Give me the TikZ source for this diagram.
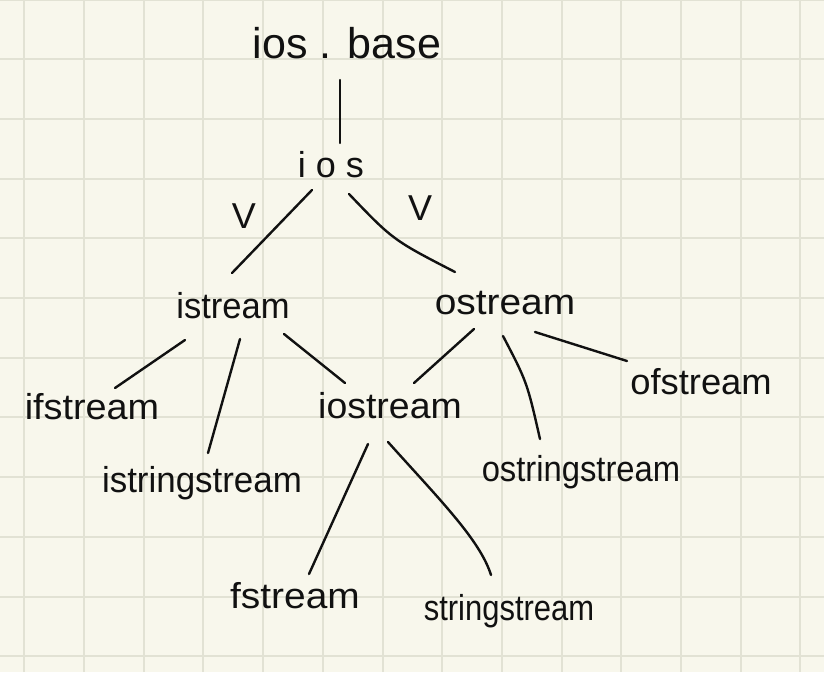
\documentclass[tikz,border=0pt]{standalone}
\usepackage{fontspec}
\setmainfont{Liberation Sans}
\usetikzlibrary{calc}
\definecolor{paper}{HTML}{F8F7EC}
\definecolor{gridc}{HTML}{E2E2D4}
\definecolor{ink}{HTML}{111111}
\tikzset{
  lbl/.style={inner sep=0pt, anchor=base, text=ink, font=\fontsize{36}{40}\selectfont},
  ttl/.style={inner sep=0pt, anchor=base, text=ink, font=\fontsize{43}{46}\selectfont},
  link/.style={draw=ink, line width=2.4pt, line cap=round},
  gridline/.style={draw=gridc, line width=2pt}
}
\begin{document}
\begin{tikzpicture}[x=1pt, y=-1pt]
\fill[paper] (0,0) rectangle (824,672);
\useasboundingbox (0,0) rectangle (824,672);
\foreach \k in {0,...,13} { \draw[gridline] (24.3+59.7*\k,0) -- (24.3+59.7*\k,672); }
\foreach \k in {0,...,11} { \draw[gridline] (0,-0.5+59.7*\k) -- (824,-0.5+59.7*\k); }

\node[ttl] (iosbase) at (347,58) {ios . base};
\node[lbl] (ios) at (331,177) {i\kern10pt o\kern10pt s};
\node[lbl] (vleft) at (244,228) {V};
\node[lbl] (vright) at (420,220) {V};
\node[lbl] (istream) at (233,318) {\scalebox{0.96}[1]{istream}};
\node[lbl] (ostream) at (505,314) {\scalebox{1.08}[1]{ostream}};
\node[lbl] (ifstream) at (92,419) {\scalebox{1.05}[1]{ifstream}};
\node[lbl] (iostream) at (390,418) {\scalebox{1.04}[1]{iostream}};
\node[lbl] (istringstream) at (202,492) {\scalebox{0.97}[1]{istringstream}};
\node[lbl] (ofstream) at (701,394) {\scalebox{1.01}[1]{ofstream}};
\node[lbl] (ostringstream) at (581,481) {\scalebox{0.91}[1]{ostringstream}};
\node[lbl] (fstream) at (295,608) {\scalebox{1.08}[1]{fstream}};
\node[lbl] (stringstream) at (509,620) {\scalebox{0.86}[1]{stringstream}};

\draw[link] ($(iosbase.base)+(-7,22)$) -- ($(ios.base)+(9,-34)$);
\draw[link] ($(ios.base)+(-19,13)$) -- ($(istream.base)+(-1,-45)$);
\draw[link] ($(ios.base)+(18,17)$) .. controls ($(ios.base)+(62,63)$) .. ($(ostream.base)+(-50,-42)$);
\draw[link] ($(istream.base)+(-48,22)$) -- ($(ifstream.base)+(23,-31)$);
\draw[link] ($(istream.base)+(7,21)$) -- ($(istringstream.base)+(6,-39)$);
\draw[link] ($(istream.base)+(51,16)$) -- ($(iostream.base)+(-45,-35)$);
\draw[link] ($(ostream.base)+(-31,15)$) -- ($(iostream.base)+(24,-35)$);
\draw[link] ($(ostream.base)+(-2,22)$) .. controls ($(ostream.base)+(22,68)$) .. ($(ostringstream.base)+(-41,-42)$);
\draw[link] ($(ostream.base)+(30,18)$) -- ($(ofstream.base)+(-74,-33)$);
\draw[link] ($(iostream.base)+(-22,26)$) -- ($(fstream.base)+(14,-34)$);
\draw[link] ($(iostream.base)+(-2,24)$) .. controls ($(iostream.base)+(50,82)$) and ($(stringstream.base)+(-29,-80)$) .. ($(stringstream.base)+(-18,-45)$);
\end{tikzpicture}
\end{document}
